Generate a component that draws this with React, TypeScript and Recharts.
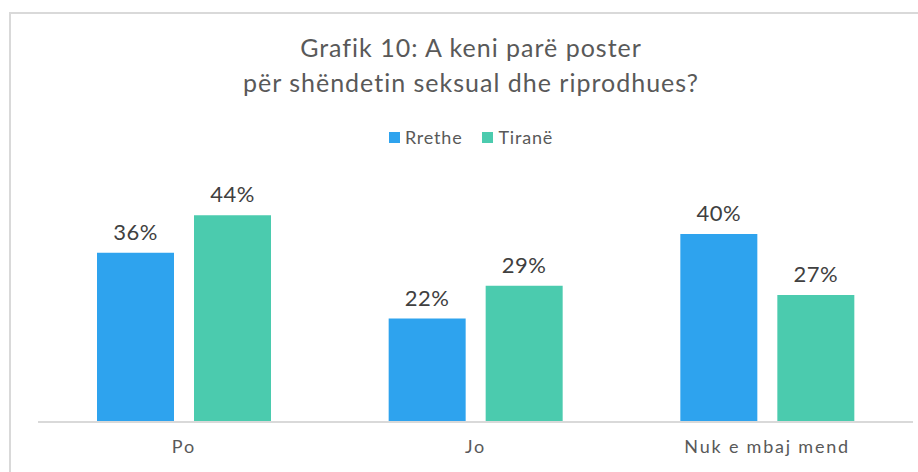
import { BarChart, Bar, XAxis, YAxis, LabelList } from "recharts";

const categories = ["Po", "Jo", "Nuk e mbaj mend"];
const rrethe = [0.36, 0.22, 0.4];
const tirane = [0.44, 0.29, 0.27];

const data = categories.map((name, i) => ({ name, rrethe: rrethe[i], tirane: tirane[i] }));

const BLUE = "#2EA3EE";
const GREEN = "#4BCBAE";
const TEXT = "#595959";
const FONT = "Lato, 'Open Sans', sans-serif";

const pct = (v: unknown) => `${Math.round(Number(v) * 100)}%`;

export default function App() {
  return (
    <div style={{ position: "absolute", left: 0, top: 0, width: 918, height: 472, overflow: "hidden", background: "#fff", fontFamily: FONT }}>
      {/* frame */}
      <div style={{ position: "absolute", left: 9, top: 12, width: 940, height: 500, border: "2px solid #d9d9d9" }} />

      {/* title */}
      <div style={{ position: "absolute", left: 0, top: 30, width: 942, textAlign: "center", fontSize: 25, letterSpacing: 1, lineHeight: "35px", color: TEXT }}>
        Grafik 10: A keni parë poster
        <br />
        për shëndetin seksual dhe riprodhues?
      </div>

      {/* legend */}
      <div style={{ position: "absolute", left: 0, top: 126, width: 942, display: "flex", justifyContent: "center", gap: 20, fontSize: 18, letterSpacing: 0.8, color: TEXT }}>
        <span style={{ display: "flex", alignItems: "center" }}>
          <span style={{ width: 11, height: 11, background: BLUE, marginRight: 5 }} />Rrethe
        </span>
        <span style={{ display: "flex", alignItems: "center" }}>
          <span style={{ width: 11, height: 11, background: GREEN, marginRight: 5 }} />Tiranë
        </span>
      </div>

      <div style={{ position: "absolute", left: 0, top: 0 }}>
        <BarChart
          width={918}
          height={472}
          data={data}
          margin={{ top: 187, right: 5, bottom: 0, left: 38 }}
          barCategoryGap={59}
          barGap={20}
        >
          <XAxis
            dataKey="name"
            axisLine={{ stroke: "#d9d9d9", strokeWidth: 2 }}
            tickLine={false}
            height={50}
            tick={{ fill: TEXT, fontSize: 18, fontFamily: FONT, letterSpacing: 1.8 }}
            tickMargin={12}
          />
          <YAxis hide domain={[0, 0.5]} />
          <Bar dataKey="rrethe" fill={BLUE} isAnimationActive={false}>
            <LabelList dataKey="rrethe" position="top" offset={13} formatter={pct} fill="#404040" fontSize={22} letterSpacing={0.5} fontFamily={FONT} />
          </Bar>
          <Bar dataKey="tirane" fill={GREEN} isAnimationActive={false}>
            <LabelList dataKey="tirane" position="top" offset={13} formatter={pct} fill="#404040" fontSize={22} letterSpacing={0.5} fontFamily={FONT} />
          </Bar>
        </BarChart>
      </div>
    </div>
  );
}
